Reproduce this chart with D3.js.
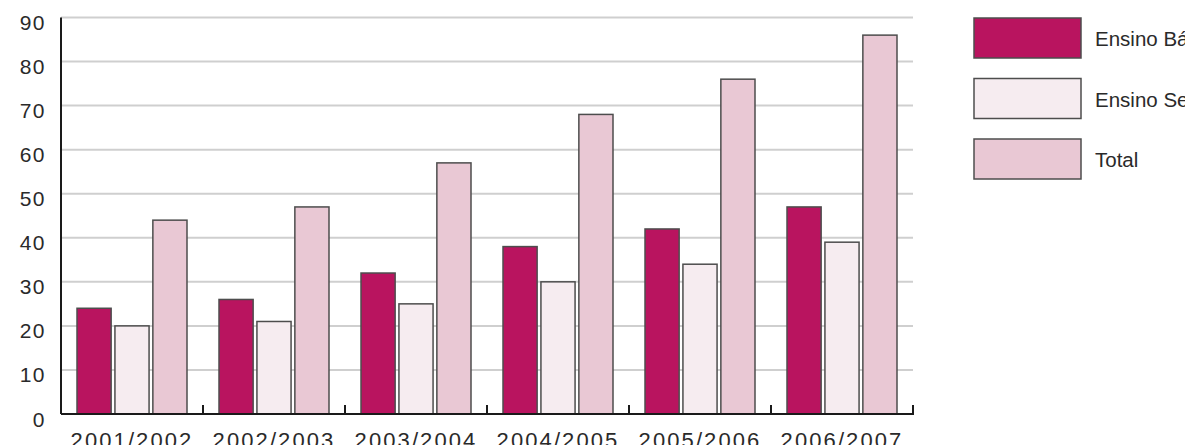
<!DOCTYPE html>
<html>
<head>
<meta charset="utf-8">
<script src="https://cdn.jsdelivr.net/npm/d3@7.9.0/dist/d3.min.js"></script>
<style>
  html, body { margin: 0; padding: 0; background: #fff; overflow: hidden; }
  svg { display: block; font-family: "Liberation Sans", Arial, sans-serif; }
</style>
</head>
<body>
<svg id="chart" width="1185" height="445"></svg>
<script>
const years = ['2001/2002', '2002/2003', '2003/2004', '2004/2005', '2005/2006', '2006/2007'];
const series = ['Ensino Básico', 'Ensino Secundário', 'Total'];
const basico = [24, 26, 32, 38, 42, 47];
const secundario = [20, 21, 25, 30, 34, 39];
const total = [44, 47, 57, 68, 76, 86];
const yTicks = [0, 10, 20, 30, 40, 50, 60, 70, 80, 90];

const colors = { 'Ensino Básico': '#b9145f', 'Ensino Secundário': '#f6ecf0', 'Total': '#e9c8d4' };

const rows = years.map((yr, i) => ({
  year: yr,
  values: [basico[i], secundario[i], total[i]].map((v, j) => ({ key: series[j], value: v }))
}));

const svg = d3.select('#chart');
const plotLeft = 61, plotRight = 913, plotTop = 17.5, plotBottom = 414;

const x0 = d3.scaleBand().domain(years).range([plotLeft, plotRight]).padding(0);
const x1 = d3.scaleBand().domain(series).range([16, 126]).paddingInner(0.1);
const y = d3.scaleLinear().domain([0, 90]).range([plotBottom, plotTop]);

// gridlines
svg.append('g')
  .selectAll('line')
  .data(yTicks.filter(d => d > 0))
  .join('line')
  .attr('x1', plotLeft).attr('x2', plotRight)
  .attr('y1', d => y(d)).attr('y2', d => y(d))
  .attr('stroke', '#cfcfcf')
  .attr('stroke-width', 2);

// y labels
svg.append('g')
  .selectAll('text')
  .data(yTicks)
  .join('text')
  .attr('x', 46)
  .attr('y', d => y(d) + 7)
  .attr('text-anchor', 'end')
  .attr('dominant-baseline', 'middle')
  .attr('font-size', 21)
  .attr('letter-spacing', 1.5)
  .attr('fill', '#2a2a2a')
  .text(d => d);

// bars
const groups = svg.append('g')
  .selectAll('g')
  .data(rows)
  .join('g')
  .attr('transform', d => `translate(${x0(d.year)},0)`);

groups.selectAll('rect')
  .data(d => d.values)
  .join('rect')
  .attr('x', d => x1(d.key))
  .attr('width', x1.bandwidth())
  .attr('y', d => y(d.value))
  .attr('height', d => y(0) - y(d.value))
  .attr('fill', d => colors[d.key])
  .attr('stroke', '#4d4d4d')
  .attr('stroke-width', 1.5);

// axes
svg.append('line')
  .attr('x1', plotLeft).attr('x2', plotLeft)
  .attr('y1', plotTop).attr('y2', plotBottom)
  .attr('stroke', '#1a1a1a').attr('stroke-width', 2);

svg.append('line')
  .attr('x1', plotLeft).attr('x2', plotRight + 1)
  .attr('y1', plotBottom).attr('y2', plotBottom)
  .attr('stroke', '#1a1a1a').attr('stroke-width', 2);

const bounds = years.slice(1).map(d => x0(d)).concat([plotRight]);
svg.append('g')
  .selectAll('line')
  .data(bounds)
  .join('line')
  .attr('x1', d => d).attr('x2', d => d)
  .attr('y1', plotBottom - 9).attr('y2', plotBottom)
  .attr('stroke', '#1a1a1a').attr('stroke-width', 2);

// x labels
svg.append('g')
  .selectAll('text')
  .data(years)
  .join('text')
  .attr('x', d => x0(d) + x0.bandwidth() / 2)
  .attr('y', 448)
  .attr('text-anchor', 'middle')
  .attr('font-size', 22)
  .attr('letter-spacing', 2.1)
  .attr('fill', '#2a2a2a')
  .text(d => d);

// legend
const legend = svg.append('g')
  .selectAll('g')
  .data(series)
  .join('g')
  .attr('transform', (d, i) => `translate(974,${18 + i * 60.5})`);

legend.append('rect')
  .attr('width', 107)
  .attr('height', 40)
  .attr('fill', d => colors[d])
  .attr('stroke', '#4d4d4d')
  .attr('stroke-width', 1.5);

legend.append('text')
  .attr('x', 121)
  .attr('y', 23)
  .attr('dominant-baseline', 'middle')
  .attr('font-size', 20.5)
  .attr('fill', '#2a2a2a')
  .text(d => d);
</script>
</body>
</html>
